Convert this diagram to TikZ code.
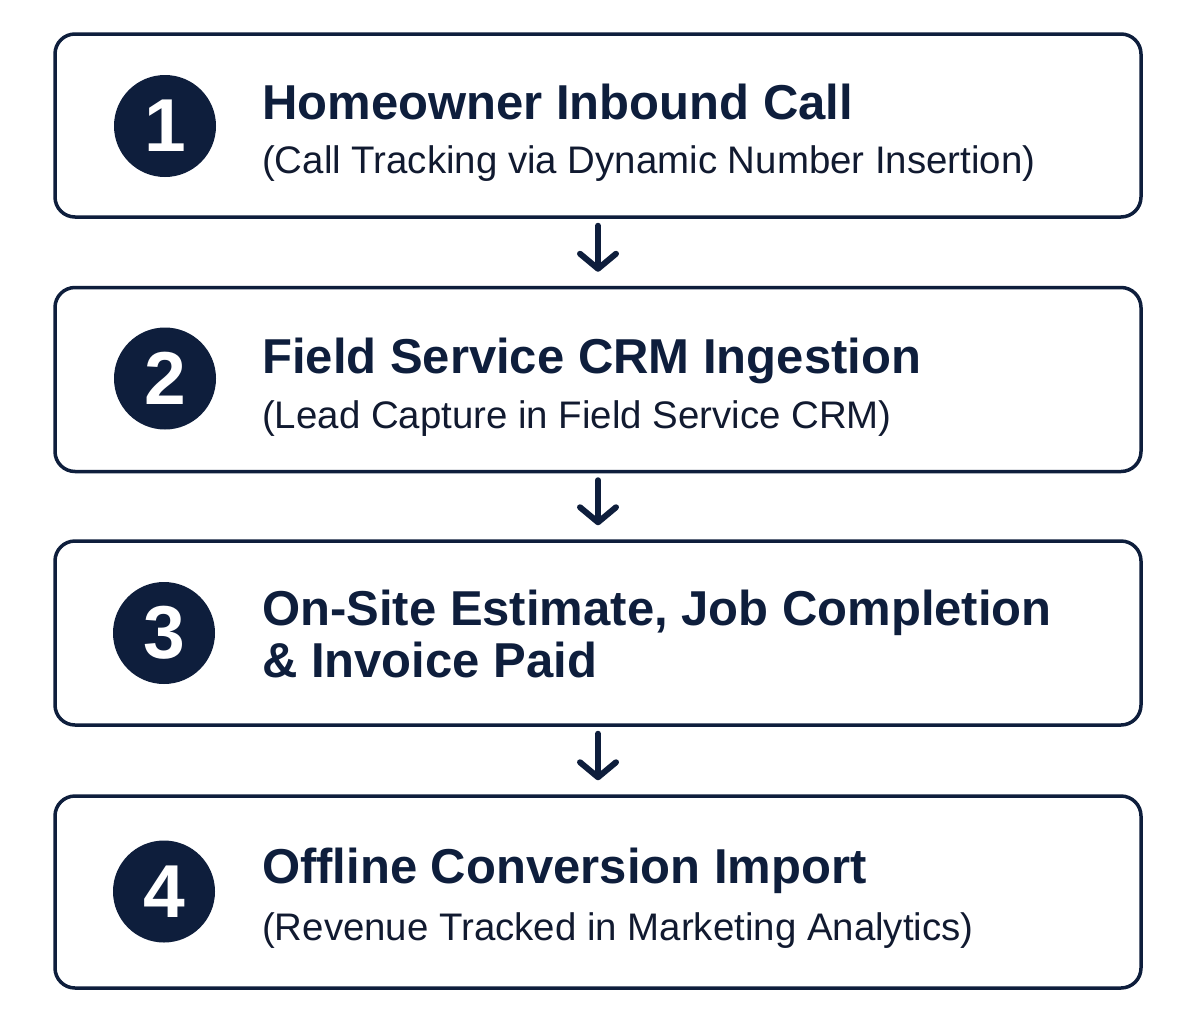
\documentclass[tikz,border=0pt]{standalone}
\usepackage{fontspec}
\setmainfont{Liberation Sans}
\usetikzlibrary{arrows.meta}
\definecolor{navy}{HTML}{0E1E3C}
\definecolor{ink}{HTML}{111A30}
\tikzset{
  stepbox/.style={draw=navy, line width=3.5pt, rounded corners=20pt, fill=white},
  numdisc/.style={circle, fill=navy, minimum size=102pt, inner sep=0pt, text=white, font=\fontsize{75}{75}\selectfont\bfseries},
  titletext/.style={anchor=base west, inner sep=0pt, text=navy, font=\fontsize{49}{50}\selectfont\bfseries},
  subtext/.style={anchor=base west, inner sep=0pt, text=ink, font=\fontsize{38.4}{40}\selectfont},
  flow/.style={draw=navy, line width=6pt, line cap=round, -{Straight Barb[length=15pt, width=36pt, line cap=round, line join=round]}, shorten <=7pt, shorten >=14pt}
}
\begin{document}
\begin{tikzpicture}[x=1pt, y=-1pt]
\useasboundingbox (0,0) rectangle (1194,1023);
\fill[white] (0,0) rectangle (1194,1023);
% boxes
\node[stepbox, minimum width=1086pt, minimum height=183pt, inner sep=0pt] (b1) at (598,125.5) {};
\node[stepbox, minimum width=1086pt, minimum height=184pt, inner sep=0pt] (b2) at (598,379.5) {};
\node[stepbox, minimum width=1086pt, minimum height=184pt, inner sep=0pt] (b3) at (598,633) {};
\node[stepbox, minimum width=1086pt, minimum height=192pt, inner sep=0pt] (b4) at (598,892) {};
% numbers
\node[numdisc] (n1) at (165,126) {1};
\node[numdisc] (n2) at (165,378.5) {2};
\node[numdisc] (n3) at (164,633) {3};
\node[numdisc] (n4) at (164,891.5) {4};
% texts
\node[titletext] (t1) at (262,119) {Homeowner Inbound Call};
\node[subtext] (s1) at (262,173) {(Call Tracking via Dynamic Number Insertion)};
\node[titletext] (t2) at (262,373) {Field Service CRM Ingestion};
\node[subtext] (s2) at (262,428) {(Lead Capture in Field Service CRM)};
\node[titletext] (t3a) at (262,625) {On-Site Estimate, Job Completion};
\node[titletext] (t3b) at (262,677) {\& Invoice Paid};
\node[titletext] (t4) at (262,883) {Offline Conversion Import};
\node[subtext] (s4) at (262,940) {(Revenue Tracked in Marketing Analytics)};
% arrows
\draw[flow] (b1.south) -- (b2.north);
\draw[flow] (b2.south) -- (b3.north);
\draw[flow] (b3.south) -- (b4.north);
\end{tikzpicture}
\end{document}
